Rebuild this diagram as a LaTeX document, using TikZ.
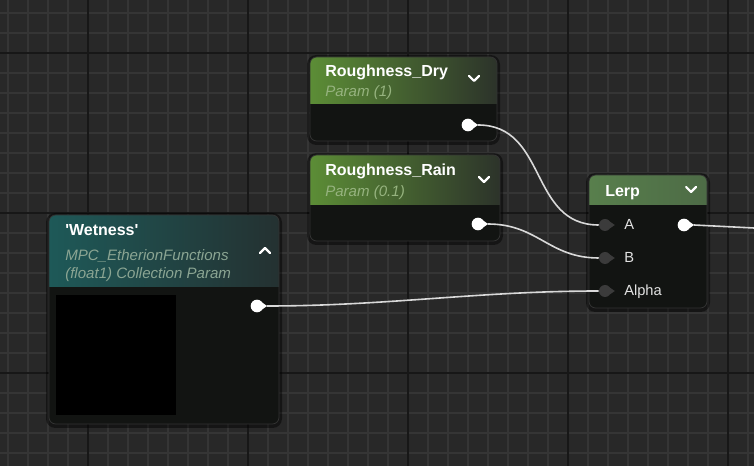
\documentclass[tikz,border=0pt]{standalone}
\usepackage{fontspec}
\setmainfont{Liberation Sans}
\newfontfamily\nqfont{Liberation Sans}
\definecolor{bgc}{HTML}{282828}
\definecolor{minorc}{HTML}{353535}
\definecolor{majorc}{HTML}{171717}
\definecolor{bodyc}{HTML}{121412}
\definecolor{greenL}{HTML}{5C8D36}
\definecolor{greenM}{HTML}{4D7B2E}
\definecolor{greenR}{HTML}{2C332A}
\definecolor{lerpL}{HTML}{587F4C}
\definecolor{lerpM}{HTML}{31492C}
\definecolor{lerpR}{HTML}{4D6B46}
\definecolor{tealL}{HTML}{1E5958}
\definecolor{tealM}{HTML}{1F4E4C}
\definecolor{tealR}{HTML}{243131}
\definecolor{subG}{HTML}{96B37F}
\definecolor{subT}{HTML}{8BA593}
\definecolor{wirec}{HTML}{D9D9D9}
\definecolor{inpinc}{HTML}{3B3B3B}
\definecolor{labc}{HTML}{E2E2E2}
\newcommand\uebox[8]{%
  \fill[black,opacity=0.45,rounded corners=7] (#1-3,#2-2) rectangle (#3+3,#4+4);
  \begin{scope}
    \clip[rounded corners=5] (#1,#2) rectangle (#3,#4);
    \fill[bodyc] (#1,#2) rectangle (#3,#4);
    \shade[left color=#6,middle color=#7,right color=#8] (#1,#2) rectangle (#3,#5);
  \end{scope}
  \draw[black!80,line width=0.6pt,rounded corners=5] (#1,#2) rectangle (#3,#4);
}
\newcommand\pintri[2]{%
  \fill[#2] ([shift={(-1.5,-3.5)}]#1.east) -- ([shift={(3.5,0)}]#1.east) -- ([shift={(-1.5,3.5)}]#1.east) -- cycle;
}
\begin{document}
\begin{tikzpicture}[x=0.75pt,y=-0.75pt,
  minorline/.style={minorc,line width=1.5pt},
  majorline/.style={majorc,line width=1.5pt},
  titletext/.style={white,font=\fontsize{12}{14}\selectfont\bfseries,inner sep=0pt,anchor=base west},
  subtext/.style={font=\fontsize{11.3}{13}\selectfont\itshape,inner sep=0pt,anchor=base west},
  pinlabel/.style={labc,font=\fontsize{11}{13}\selectfont,inner sep=0pt,anchor=base west},
  outpin/.style={circle,fill=white,minimum size=9.5pt,inner sep=0pt},
  inpin/.style={circle,fill=inpinc,minimum size=9pt,inner sep=0pt},
  wire/.style={wirec,line width=1.2pt},
  chev/.style={white,line width=1.6pt,line cap=round,line join=round}]
\useasboundingbox (0,0) rectangle (754,466);
\fill[bgc] (0,0) rectangle (754,466);
\foreach \x in {8,28,...,748} \draw[minorline] (\x,0) -- (\x,466);
\foreach \y in {13,33,...,460} \draw[minorline] (0,\y) -- (754,\y);
\foreach \x in {88,248,408,568,728} \draw[majorline] (\x,0) -- (\x,466);
\foreach \y in {53,213,373} \draw[majorline] (0,\y) -- (754,\y);

% Roughness_Dry
\uebox{310}{57}{497}{141}{104}{greenL}{greenM}{greenR}
\node[titletext] (drytitle) at (325,77) {Roughness\_Dry};
\node[subtext,subG] (drysub) at (325,97) {Param (1)};
\draw[chev] (469,76) -- (474,81) -- (479,76);
\node[outpin] (dryout) at (468,125) {};
\pintri{dryout}{white}

% Roughness_Rain
\uebox{310}{155}{500}{241}{205}{greenL}{greenM}{greenR}
\node[titletext] (raintitle) at (325,176) {Roughness\_Rain};
\node[subtext,subG] (rainsub) at (325,197) {Param (0.1)};
\draw[chev] (479,177) -- (484,182) -- (489,177);
\node[outpin] (rainout) at (478,224) {};
\pintri{rainout}{white}

% Wetness
\uebox{49}{215}{279}{424}{287}{tealL}{tealM}{tealR}
\node[titletext] (wettitle) at (65,236) {\nqfont\bfseries 'Wetness'};
\node[subtext,subT] (wetsub1) at (65,261) {MPC\_EtherionFunctions};
\node[subtext,subT] (wetsub2) at (65,279) {(float1) Collection Param};
\draw[chev] (260,253) -- (265,248) -- (270,253);
\fill[black] (56,295) rectangle (176,415);
\node[outpin] (wetout) at (257,306) {};
\pintri{wetout}{white}

% Lerp
\uebox{589}{175}{707}{308}{205}{lerpL}{lerpM}{lerpR}
\node[titletext] (lerptitle) at (605,197) {Lerp};
\draw[chev] (686,187) -- (691,192) -- (696,187);
\node[inpin] (lerpA) at (605,225) {};
\pintri{lerpA}{inpinc}
\node[inpin] (lerpB) at (605,258) {};
\pintri{lerpB}{inpinc}
\node[inpin] (lerpAlpha) at (605,291) {};
\pintri{lerpAlpha}{inpinc}
\node[pinlabel] (labA) at (624,230) {A};
\node[pinlabel] (labB) at (624,263) {B};
\node[pinlabel] (labAlpha) at (624,296) {Alpha};
\node[outpin] (lerpout) at (684,225) {};
\pintri{lerpout}{white}
\coordinate (offright) at (754,228);

% wires
\draw[wire] ([xshift=2.5pt]dryout.east) .. controls +(70,0) and +(-70,0) .. (lerpA.west);
\draw[wire] ([xshift=2.5pt]rainout.east) .. controls +(50,0) and +(-50,0) .. (lerpB.west);
\draw[wire] ([xshift=2.5pt]wetout.east) .. controls +(120,0) and +(-120,0) .. (lerpAlpha.west);
\draw[wire] ([xshift=2.5pt]lerpout.east) -- (offright);
\end{tikzpicture}
\end{document}
